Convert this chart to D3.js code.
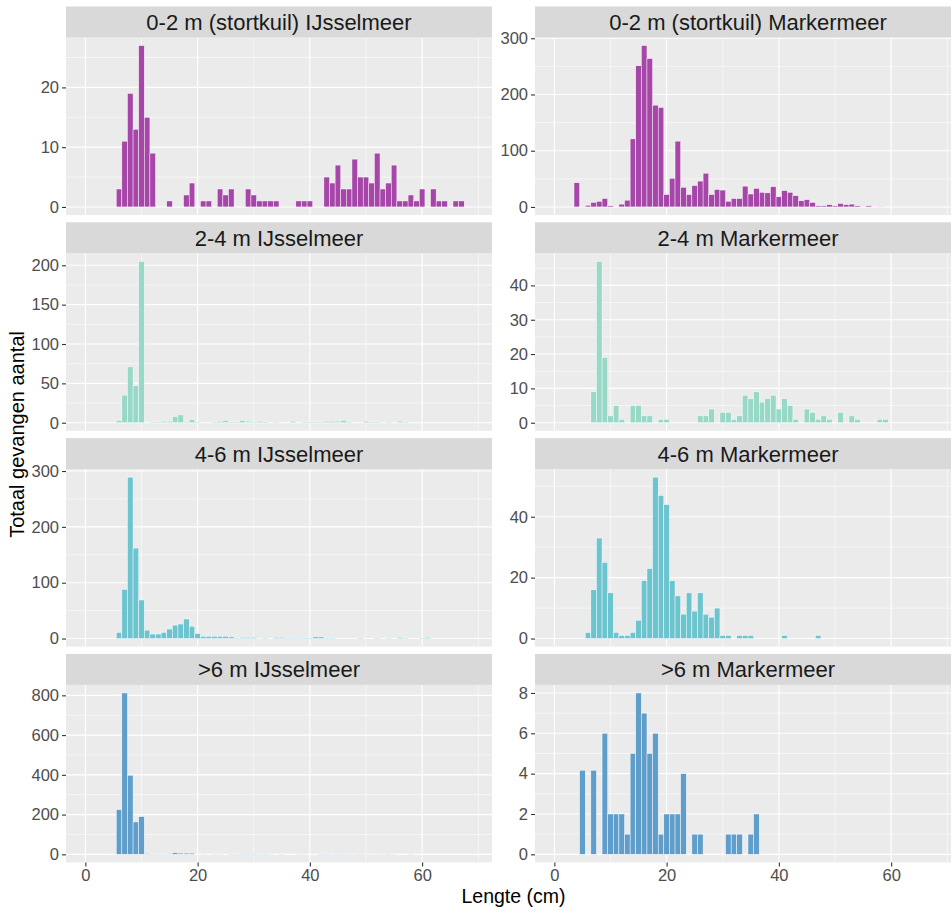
<!DOCTYPE html>
<html>
<head>
<meta charset="utf-8">
<script src="https://cdn.jsdelivr.net/npm/d3@7"></script>
<style>
  body { margin: 0; background: #ffffff; }
  svg { display: block; }
  text { font-family: "Liberation Sans", Arial, Helvetica, sans-serif; }
</style>
</head>
<body>
<svg id="chart" width="951" height="911"></svg>
<script>
// Length-frequency counts per panel: [length class (cm), total caught]
const ijssel02 = [[6,3],[7,11],[8,19],[9,13],[10,27],[11,15],[12,9],[15,1],[18,2],[19,4],[21,1],[22,1],[24,3],[25,2],[26,3],[29,3],[30,2],[31,1],[32,1],[33,1],[34,1],[38,1],[39,1],[40,1],[43,5],[44,4],[45,7],[46,3],[47,3],[48,8],[49,5],[50,5],[51,4],[52,9],[53,3],[54,4],[55,7],[56,1],[57,1],[58,2],[59,1],[60,3],[62,3],[63,1],[64,1],[66,1],[67,1]];
const marker02 = [[4,43],[5,1],[6,3],[7,8],[8,10],[9,15],[10,2],[12,5],[13,12],[14,121],[15,251],[16,287],[17,264],[18,181],[19,177],[20,22],[21,51],[22,117],[23,35],[24,22],[25,38],[26,46],[27,60],[28,22],[29,31],[30,30],[31,10],[32,15],[33,15],[34,37],[35,23],[36,33],[37,26],[38,25],[39,36],[40,18],[41,29],[42,26],[43,20],[44,11],[45,13],[46,8],[47,2],[48,2],[49,4],[50,2],[51,6],[52,4],[53,5],[54,2],[56,2],[58,1]];
const ijssel24 = [[6,3],[7,35],[8,71],[9,47],[10,205],[12,1],[13,1],[14,2],[15,2],[16,8],[17,10],[18,1],[19,4],[20,1],[23,1],[24,2],[25,3],[26,1],[27,1],[28,3],[29,2],[30,1],[31,2],[32,1],[34,1],[37,2],[39,1],[40,1],[41,1],[42,1],[43,2],[44,2],[45,2],[46,3],[47,1],[50,2],[51,1],[52,1],[54,1],[56,2],[57,1]];
const marker24 = [[7,9],[8,47],[9,19],[10,2],[11,5],[12,1],[14,5],[15,5],[16,2],[17,2],[19,1],[20,1],[26,2],[27,2],[28,4],[30,3],[31,3],[32,1],[33,2],[34,8],[35,7],[36,9],[37,6],[38,7],[39,8],[40,4],[41,7],[42,5],[43,1],[45,4],[46,3],[47,1],[48,2],[49,1],[51,3],[53,2],[54,1],[58,1],[59,1]];
const ijssel46 = [[6,11],[7,88],[8,289],[9,162],[10,69],[11,15],[12,8],[13,8],[14,11],[15,17],[16,24],[17,26],[18,35],[19,22],[20,9],[21,4],[22,4],[23,4],[24,4],[25,4],[26,3],[27,1],[28,2],[29,2],[30,2],[32,1],[34,2],[35,2],[36,1],[37,1],[38,1],[39,1],[40,1],[41,3],[42,3],[43,1],[44,1],[49,1],[52,1],[54,1],[56,2],[57,1],[60,1],[61,2]];
const marker46 = [[6,2],[7,16],[8,33],[9,25],[10,15],[11,2],[12,1],[13,1],[14,2],[15,6],[16,19],[17,23],[18,53],[19,47],[20,44],[21,19],[22,14],[23,8],[24,15],[25,9],[26,15],[27,8],[28,7],[29,10],[30,1],[31,1],[33,1],[34,1],[35,1],[41,1],[47,1]];
const ijssel6 = [[6,225],[7,812],[8,398],[9,163],[10,190],[11,4],[12,2],[13,2],[14,2],[15,3],[16,8],[17,6],[18,6],[19,6],[21,1],[23,1],[24,1],[26,2],[27,2],[28,3],[29,3],[30,3],[31,2],[32,2],[33,1],[35,1],[38,1],[39,1],[42,2],[43,2],[44,1],[45,2],[46,2],[47,2],[48,1],[49,2],[50,1],[51,1],[52,1],[53,1],[54,2],[55,1],[58,1]];
const marker6 = [[5,4.17],[7,4.17],[9,6],[10,2],[11,2],[12,2],[13,1],[14,5],[15,8],[16,7],[17,5],[18,6],[19,1],[20,2],[21,2],[22,2],[23,4],[25,1],[26,1],[31,1],[32,1],[33,1],[35,1],[36,2]];

// Panel titles, tick labels and depth colours
const depthLabels = ["0-2 m (stortkuil)", "2-4 m", "4-6 m", ">6 m"];
const lakes = ["IJsselmeer", "Markermeer"];
const depthColors = ["#a546a8", "#98d8c6", "#6cc4cf", "#5f9ecb"];
const xTicks = [0, 20, 40, 60];
const xMinorTicks = [10, 30, 50, 70];
const yTicksIJ = [[0,10,20], [0,50,100,150,200], [0,100,200,300], [0,200,400,600,800]];
const yTicksMM = [[0,100,200,300], [0,10,20,30,40], [0,20,40], [0,2,4,6,8]];
const seriesIJ = [ijssel02, ijssel24, ijssel46, ijssel6];
const seriesMM = [marker02, marker24, marker46, marker6];

// Layout
const colLeft = [66, 535];
const panelW = 426;
const firstTop = 6.5;
const stripH = 31;
const panelH = 177.5;
const rowPitch = 215.8;
const binW = 1;

const svg = d3.select("#chart");
svg.append("rect").attr("width", 951).attr("height", 911).attr("fill", "#ffffff");

const x0 = d3.scaleLinear().domain([-3.45, 72.45]);

for (let r = 0; r < 4; r++) {
  for (let c = 0; c < 2; c++) {
    const data = c === 0 ? seriesIJ[r] : seriesMM[r];
    const yt = c === 0 ? yTicksIJ[r] : yTicksMM[r];
    const left = colLeft[c];
    const stripTop = firstTop + r * rowPitch;
    const pTop = stripTop + stripH;
    const pBot = pTop + panelH;

    const x = x0.copy().range([left, left + panelW]);
    const maxV = d3.max(data, d => d[1]);
    const y = d3.scaleLinear().domain([-0.05 * maxV, 1.05 * maxV]).range([pBot, pTop]);

    const g = svg.append("g");
    const clipId = `clip-${r}-${c}`;
    g.append("clipPath").attr("id", clipId)
      .append("rect").attr("x", left).attr("y", pTop).attr("width", panelW).attr("height", panelH);

    // panel background
    g.append("rect").attr("x", left).attr("y", pTop).attr("width", panelW).attr("height", panelH)
      .attr("fill", "#ebebeb");

    const grid = g.append("g").attr("clip-path", `url(#${clipId})`);
    // minor grid lines halfway between the labelled ticks
    const step = yt[1] - yt[0];
    const yMinor = [];
    for (let v = yt[0] + step / 2; v < y.domain()[1]; v += step) yMinor.push(v);
    grid.selectAll(".ymin").data(yMinor).join("line")
      .attr("x1", left).attr("x2", left + panelW)
      .attr("y1", d => y(d)).attr("y2", d => y(d))
      .attr("stroke", "#ffffff").attr("stroke-width", 0.55);
    grid.selectAll(".xmin").data(xMinorTicks).join("line")
      .attr("x1", d => x(d)).attr("x2", d => x(d))
      .attr("y1", pTop).attr("y2", pBot)
      .attr("stroke", "#ffffff").attr("stroke-width", 0.55);
    // major grid
    grid.selectAll(".ymaj").data(yt).join("line")
      .attr("x1", left).attr("x2", left + panelW)
      .attr("y1", d => y(d)).attr("y2", d => y(d))
      .attr("stroke", "#ffffff").attr("stroke-width", 1.1);
    grid.selectAll(".xmaj").data(xTicks).join("line")
      .attr("x1", d => x(d)).attr("x2", d => x(d))
      .attr("y1", pTop).attr("y2", pBot)
      .attr("stroke", "#ffffff").attr("stroke-width", 1.1);

    // histogram bars, one per 1 cm length class
    grid.selectAll(".bar").data(data).join("rect")
      .attr("x", d => x(d[0] - binW / 2))
      .attr("width", d => x(d[0] + binW / 2) - x(d[0] - binW / 2))
      .attr("y", d => y(d[1]))
      .attr("height", d => y(0) - y(d[1]))
      .attr("fill", depthColors[r])
      .attr("stroke", "#ffffff")
      .attr("stroke-width", 0.45);

    // facet strip
    g.append("rect").attr("x", left).attr("y", stripTop).attr("width", panelW).attr("height", stripH)
      .attr("fill", "#d9d9d9");
    g.append("text")
      .attr("x", left + panelW / 2).attr("y", stripTop + stripH / 2 + 8)
      .attr("text-anchor", "middle")
      .attr("font-size", 22).attr("fill", "#1a1a1a")
      .text(`${depthLabels[r]} ${lakes[c]}`);

    // y axis
    const ya = g.append("g").attr("transform", `translate(${left},0)`)
      .call(d3.axisLeft(y).tickValues(yt).tickSize(4).tickPadding(3).tickFormat(d3.format("d")));
    ya.select(".domain").remove();
    ya.selectAll(".tick line").attr("stroke", "#333333").attr("stroke-width", 1.1);
    ya.selectAll(".tick text").attr("font-size", 16.5).attr("fill", "#4d4d4d")
      .attr("font-family", "'Liberation Sans', Arial, sans-serif");

    // x axis on the bottom row only
    if (r === 3) {
      const xa = g.append("g").attr("transform", `translate(0,${pBot})`)
        .call(d3.axisBottom(x).tickValues(xTicks).tickSize(4).tickPadding(3));
      xa.select(".domain").remove();
      xa.selectAll(".tick line").attr("stroke", "#333333").attr("stroke-width", 1.1);
      xa.selectAll(".tick text").attr("font-size", 16.5).attr("fill", "#4d4d4d")
        .attr("font-family", "'Liberation Sans', Arial, sans-serif");
    }
  }
}

// axis titles
svg.append("text")
  .attr("x", (colLeft[0] + colLeft[1] + panelW) / 2).attr("y", 903)
  .attr("text-anchor", "middle").attr("font-size", 19.5).attr("fill", "#000000")
  .text("Lengte (cm)");
svg.append("text")
  .attr("transform", `translate(24,${(firstTop + 3 * rowPitch + stripH + panelH + firstTop) / 2}) rotate(-90)`)
  .attr("text-anchor", "middle").attr("font-size", 20).attr("fill", "#000000")
  .text("Totaal gevangen aantal");
</script>
</body>
</html>
